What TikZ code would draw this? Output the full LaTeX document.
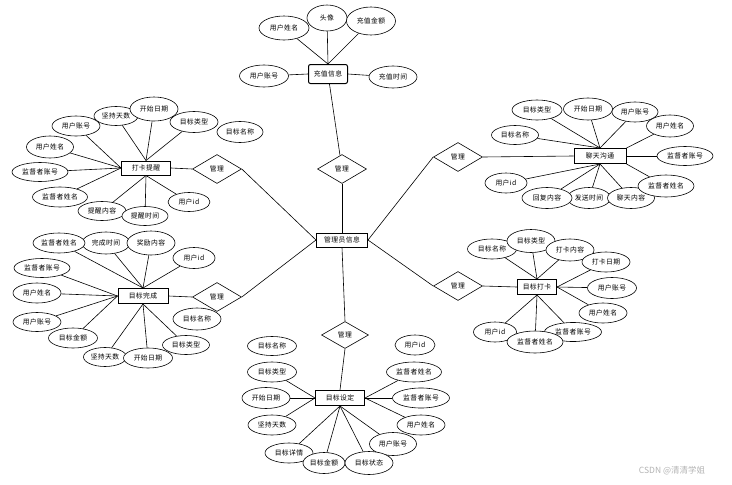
\documentclass[tikz,border=0pt]{standalone}
\usepackage{fontspec}
\newfontfamily\cjk[LetterSpace=6]{Noto Sans CJK SC}
\newfontfamily\cjkwm{Noto Sans CJK SC}
\usetikzlibrary{shapes.geometric,backgrounds}
\tikzset{
  every node/.style={font=\cjk\fontsize{6.8}{7}\selectfont, inner sep=0pt},
  ent/.style={draw, line width=1pt, rectangle, fill=white},
  attr/.style={draw, line width=0.6pt, ellipse, fill=white},
  rel/.style={draw, line width=0.6pt, diamond, fill=white, minimum width=49pt, minimum height=29pt},
  lnk/.style={line width=0.6pt}
}
\newcommand{\at}[6]{\node[attr, minimum width=#4pt, minimum height=#5pt] (#1) at (#2,#3) {#6};}
\begin{document}
\begin{tikzpicture}[x=1pt,y=-1pt]
\useasboundingbox (0,0) rectangle (732,485);
% entities
\node[ent, minimum width=51pt, minimum height=14pt] (c) at (342,240) {管理员信息};
\node[ent, rounded corners=2pt, minimum width=39pt, minimum height=19pt] (e1) at (328,74) {充值信息};
\node[ent, minimum width=49pt, minimum height=14pt] (e2) at (146,168) {打卡提醒};
\node[ent, minimum width=52pt, minimum height=15pt] (e3) at (600,156) {聊天沟通};
\node[ent, minimum width=50pt, minimum height=15pt] (e4) at (143,296) {目标完成};
\node[ent, minimum width=39pt, minimum height=15pt] (e5) at (537,287) {目标打卡};
\node[ent, minimum width=49pt, minimum height=15pt] (e6) at (340,398) {目标设定};
% relations
\node[rel] (r1) at (342,169) {管理};
\node[rel] (r2) at (217,169) {管理};
\node[rel] (r3) at (217,297) {管理};
\node[rel] (r4) at (458,157) {管理};
\node[rel] (r5) at (458,286) {管理};
\node[rel, minimum width=47pt, minimum height=27pt] (r6) at (345,335) {管理};
% attributes of 充值信息
\at{a11}{284}{28}{50}{24}{用户姓名}
\at{a12}{327}{18}{40}{26}{头像}
\at{a13}{371}{21}{49}{28}{充值金额}
\at{a14}{264}{76}{49}{22}{用户账号}
\at{a15}{393}{77}{48}{22}{充值时间}
% attributes of 打卡提醒
\at{a21}{76}{126}{48}{20}{用户账号}
\at{a22}{116}{116}{44}{19}{坚持天数}
\at{a23}{154}{109}{48}{24}{开始日期}
\at{a24}{194}{122}{48}{21}{目标类型}
\at{a25}{240}{132}{46}{21}{目标名称}
\at{a26}{50}{147}{47}{22}{用户姓名}
\at{a27}{40}{172}{56}{19}{监督者账号}
\at{a28}{60}{197}{55}{20}{监督者姓名}
\at{a29}{102}{211}{48}{19}{提醒内容}
\at{a2a}{145}{216}{46}{19}{提醒时间}
\at{a2b}{189}{202}{42}{19}{用户id}
% attributes of 聊天沟通
\at{a31}{537}{110}{50}{20}{目标类型}
\at{a32}{588}{109}{49}{22}{开始日期}
\at{a33}{635}{112}{46}{20}{用户账号}
\at{a34}{670}{126}{47}{22}{用户姓名}
\at{a35}{515}{135}{47}{19}{目标名称}
\at{a36}{685}{156}{56}{19}{监督者账号}
\at{a37}{506}{183}{42}{20}{用户id}
\at{a38}{589}{198}{43}{21}{发送时间}
\at{a39}{547}{198}{50}{21}{回复内容}
\at{a3a}{631}{198}{47}{21}{聊天内容}
\at{a3b}{666}{186}{56}{22}{监督者姓名}
% attributes of 目标完成
\at{a41}{106}{243}{48}{22}{完成时间}
\at{a42}{59}{243}{52}{20}{监督者姓名}
\at{a43}{151}{243}{48}{24}{奖励内容}
\at{a44}{194}{258}{42}{21}{用户id}
\at{a45}{42}{268}{56}{19}{监督者账号}
\at{a46}{37}{293}{48}{20}{用户姓名}
\at{a47}{37}{322}{48}{19}{用户账号}
\at{a48}{73}{338}{49}{20}{目标金额}
\at{a49}{197}{319}{48}{22}{目标名称}
\at{a4a}{186}{345}{47}{19}{目标类型}
\at{a4b}{105}{357}{43}{19}{坚持天数}
\at{a4c}{148}{358}{49}{20}{开始日期}
% attributes of 目标打卡
\at{a51}{492}{249}{49}{20}{目标名称}
\at{a52}{531}{241}{48}{23}{目标类型}
\at{a53}{570}{250}{48}{22}{打卡内容}
\at{a54}{606}{262}{48}{20}{打卡日期}
\at{a55}{612}{288}{49}{21}{用户账号}
\at{a56}{603}{313}{48}{20}{用户姓名}
\at{a57}{495}{332}{43}{20}{用户id}
\at{a58}{573}{332}{57}{19}{监督者账号}
\at{a59}{535}{342}{56}{22}{监督者姓名}
% attributes of 目标设定
\at{a61}{272}{346}{49}{19}{目标名称}
\at{a62}{415}{345}{40}{20}{用户id}
\at{a63}{272}{372}{49}{20}{目标类型}
\at{a64}{266}{398}{48}{21}{开始日期}
\at{a65}{272}{425}{48}{20}{坚持天数}
\at{a66}{414}{372}{55}{20}{监督者姓名}
\at{a67}{421}{398}{57}{20}{监督者账号}
\at{a68}{421}{425}{48}{20}{用户姓名}
\at{a69}{393}{444}{47}{23}{用户账号}
\at{a6a}{289}{453}{48}{20}{目标详情}
\at{a6b}{324}{463}{42}{21}{目标金额}
\at{a6c}{369}{463}{48}{23}{目标状态}
% watermark
\node[font=\cjkwm\fontsize{8.5}{9}\selectfont, text=black!30] (wm) at (672,471) {CSDN @清清学姐};
\begin{pgfonlayer}{background}
\draw[lnk] (e1) -- (r1);
\draw[lnk] (r1) -- (c);
\draw[lnk] (r2.east) -- (c.west);
\draw[lnk] (r2.west) -- (e2.east);
\draw[lnk] (r3.east) -- (c.west);
\draw[lnk] (r3.west) -- (e4.east);
\draw[lnk] (r4.west) -- (c.east);
\draw[lnk] (r4.east) -- (e3.west);
\draw[lnk] (r5.west) -- (c.east);
\draw[lnk] (r5.east) -- (e5.west);
\draw[lnk] (c.south) -- (r6.north);
\draw[lnk] (r6.south) -- (e6.north);
% 充值信息
\foreach \a in {a11,a12,a13} \draw[lnk] (\a) -- (e1.north);
\draw[lnk] (a14) -- (e1.west);
\draw[lnk] (a15) -- (e1.east);
% 打卡提醒
\foreach \a in {a21,a26,a27,a28} \draw[lnk] (\a) -- (e2.west);
\foreach \a in {a22,a23,a24} \draw[lnk] (\a) -- (e2.north);
\foreach \a in {a29,a2a,a2b} \draw[lnk] (\a) -- (e2.south);
% 聊天沟通
\foreach \a in {a31,a32,a33,a35} \draw[lnk] (\a) -- (e3.north);
\draw[lnk] (a34) -- (e3.north east);
\draw[lnk] (a36) -- (e3.east);
\draw[lnk] (a3b) -- (e3.south east);
\foreach \a in {a37,a38,a39,a3a} \draw[lnk] (\a) -- (e3.south);
% 目标完成
\foreach \a in {a41,a42,a43,a44} \draw[lnk] (\a) -- (e4.north);
\foreach \a in {a45,a46,a47,a48} \draw[lnk] (\a) -- (e4.west);
\foreach \a in {a4a,a4b,a4c} \draw[lnk] (\a) -- (e4.south);
% 目标打卡
\foreach \a in {a51,a52,a53} \draw[lnk] (\a) -- (e5.north);
\foreach \a in {a54,a55,a56} \draw[lnk] (\a) -- (e5.east);
\foreach \a in {a57,a58,a59} \draw[lnk] (\a) -- (e5.south);
% 目标设定
\foreach \a in {a63,a64,a65} \draw[lnk] (\a) -- (e6.west);
\foreach \a in {a66,a67,a68} \draw[lnk] (\a) -- (e6.east);
\foreach \a in {a69,a6a,a6b,a6c} \draw[lnk] (\a) -- (e6.south);
\end{pgfonlayer}
\end{tikzpicture}
\end{document}
